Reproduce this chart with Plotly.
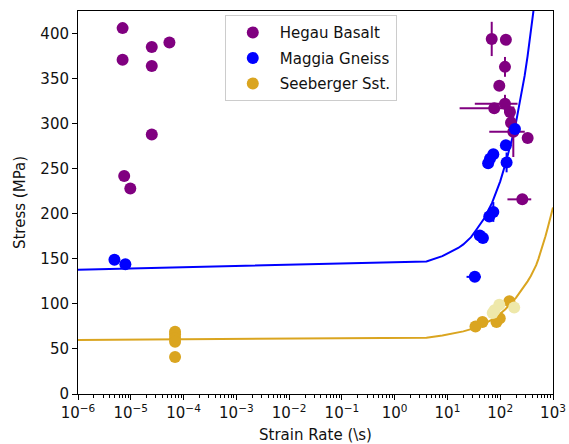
import plotly.graph_objects as go

# ---- data ----
hegau_x = [7.0e-6, 7.0e-6, 2.5e-5, 2.5e-5, 5.4e-5, 2.5e-5, 7.5e-6, 9.8e-6,
           69, 128, 123, 96, 123, 77, 153, 160, 177, 331, 262]
hegau_y = [406, 371, 385, 364, 390, 288, 242, 228,
           394, 393, 363, 342, 322, 317, 313, 301, 291, 284, 216]
hegau_xerr = [0, 0, 0, 0, 0, 0, 0, 0,
              0, 0, 0, 0, 90, 60, 0, 0, 115, 0, 125]
hegau_yerr = [0, 0, 0, 0, 0, 0, 0, 0,
              19, 3, 11, 0, 10, 0, 0, 0, 28, 0, 0]

maggia_x = [4.9e-6, 7.9e-6, 190, 128, 74, 64, 59, 132, 74, 62, 41, 47, 33]
maggia_y = [149, 144, 294, 276, 266, 261, 256, 257, 202, 197, 176, 173, 130]
maggia_xerr = [0, 0, 0, 0, 0, 0, 0, 0, 0, 0, 0, 0, 10]
maggia_yerr = [0, 0, 0, 0, 0, 0, 0, 11, 11, 0, 0, 0, 0]

seeb_x = [6.9e-5, 6.9e-5, 6.9e-5, 6.9e-5, 6.9e-5, 34, 46, 85, 98, 149]
seeb_y = [69, 66, 62, 58, 41, 75, 80, 80, 84, 103]

seeb_light_x = [72, 78, 96, 184]
seeb_light_y = [90, 93, 99, 96]

maggia_fit_x = [1e-6, 4, 8, 12, 16, 20, 28, 35, 50, 70, 85, 100, 125, 150,
                175, 200, 225, 250, 290, 330, 380, 424, 500]
maggia_fit_y = [138, 147, 153, 158, 162, 166, 174, 182, 195, 212, 224, 236,
                255, 271, 287, 302, 317, 331, 353, 375, 400, 424, 462]

seeb_fit_x = [1e-6, 4, 8, 12, 16, 20, 28, 35, 50, 70, 85, 100, 125, 150,
              200, 250, 290, 330, 380, 424, 480, 530, 590, 655, 720, 800, 900, 1000]
seeb_fit_y = [60, 62.5, 65, 66.7, 68, 69.5, 72, 74, 78, 82.5, 86, 89, 94, 99,
              107, 115, 120, 125, 131, 136, 143, 150, 158, 166, 175, 185, 196, 207]

x_tickvals = [1e-6, 1e-5, 1e-4, 1e-3, 1e-2, 1e-1, 1, 10, 100, 1000]
x_ticktext = ["10<sup>\u22126</sup>", "10<sup>\u22125</sup>", "10<sup>\u22124</sup>",
              "10<sup>\u22123</sup>", "10<sup>\u22122</sup>", "10<sup>\u22121</sup>",
              "10<sup>0</sup>", "10<sup>1</sup>", "10<sup>2</sup>", "10<sup>3</sup>"]
y_tickvals = [0, 50, 100, 150, 200, 250, 300, 350, 400]

PURPLE = "#800080"
BLUE = "#0000ff"
GOLD = "#daa520"
PALEGOLD = "#eee8aa"
TXT = "#111111"

minor_vals = []
for k in range(-6, 3):
    for m in range(2, 10):
        minor_vals.append(m * 10.0 ** k)

fig = go.Figure()

fig.add_trace(go.Scatter(x=maggia_fit_x, y=maggia_fit_y, mode="lines",
                         line=dict(color=BLUE, width=2), showlegend=False,
                         hoverinfo="skip"))
fig.add_trace(go.Scatter(x=seeb_fit_x, y=seeb_fit_y, mode="lines",
                         line=dict(color=GOLD, width=2), showlegend=False,
                         hoverinfo="skip"))

def err(arr, color):
    return dict(type="data", array=arr, symmetric=True, color=color,
                thickness=2, width=0, visible=True)

fig.add_trace(go.Scatter(x=hegau_x, y=hegau_y, mode="markers", name="Hegau Basalt",
                         legendgroup="a",
                         marker=dict(color=PURPLE, size=12),
                         error_x=err(hegau_xerr, PURPLE),
                         error_y=err(hegau_yerr, PURPLE)))
fig.add_trace(go.Scatter(x=maggia_x, y=maggia_y, mode="markers", name="Maggia Gneiss",
                         legendgroup="b",
                         marker=dict(color=BLUE, size=12),
                         error_x=err(maggia_xerr, BLUE),
                         error_y=err(maggia_yerr, BLUE)))
fig.add_trace(go.Scatter(x=seeb_x, y=seeb_y, mode="markers", name="Seeberger Sst.",
                         legendgroup="c",
                         marker=dict(color=GOLD, size=12)))
fig.add_trace(go.Scatter(x=seeb_light_x, y=seeb_light_y, mode="markers",
                         showlegend=False,
                         marker=dict(color=PALEGOLD, size=12)))

font = "DejaVu Sans, sans-serif"
fig.update_layout(
    width=569, height=444,
    margin=dict(l=78, r=16, t=11, b=50, autoexpand=False),
    paper_bgcolor="white", plot_bgcolor="white",
    font=dict(family=font, size=15, color=TXT),
    legend=dict(x=0.309, y=0.989, xanchor="left", yanchor="top",
                bgcolor="white", bordercolor="#cccccc", borderwidth=1,
                font=dict(size=15, color=TXT), itemsizing="constant",
                itemwidth=44, tracegroupgap=3),
    showlegend=True,
)
fig.update_xaxes(
    type="log", range=[-6, 3], showgrid=False, zeroline=False, automargin=False,
    showline=True, linecolor="black", linewidth=1, mirror=True,
    ticks="outside", ticklen=5, tickcolor="black", ticklabeloverflow="allow",
    tickmode="array", tickvals=x_tickvals, ticktext=x_ticktext,
    tickfont=dict(size=15, color=TXT),
    minor=dict(ticks="outside", ticklen=3, tickcolor="black",
               tickmode="array", tickvals=minor_vals, showgrid=False),
    title=dict(text="Strain Rate (\\s)", font=dict(size=15, color=TXT), standoff=10),
)
fig.update_yaxes(
    range=[0, 425], showgrid=False, zeroline=False, automargin=False,
    showline=True, linecolor="black", linewidth=1, mirror=True,
    ticks="outside", ticklen=5, tickcolor="black",
    tickmode="array", tickvals=y_tickvals,
    tickfont=dict(size=15, color=TXT),
    title=dict(text="Stress (MPa)", font=dict(size=15, color=TXT), standoff=11),
)

fig.write_html(
    "out.html",
    config={"displayModeBar": False},
    post_script="document.body.style.margin='0px';document.body.style.padding='0px';"
                "document.body.style.overflow='hidden';",
)
